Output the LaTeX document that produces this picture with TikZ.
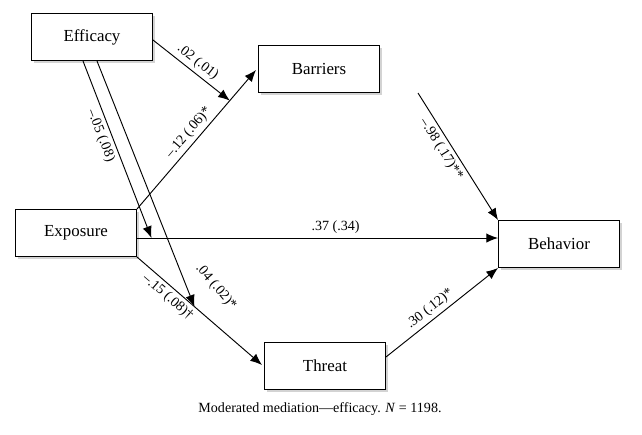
\documentclass[tikz,border=0pt]{standalone}
\usepackage{fontspec}
\setmainfont{Liberation Serif}
\usetikzlibrary{shadows,arrows.meta}
\begin{document}
\begin{tikzpicture}[x=0.03cm,y=-0.03cm]

    \tikzstyle{var}=[rectangle,draw,thick,fill=white,minimum width=3.63cm,minimum height=1.41cm,
                     font=\Large,drop shadow={shadow xshift=2pt,shadow yshift=-2pt,opacity=0.35}]
    \tikzstyle{path}=[thick,-{Latex[length=10pt,width=8pt]}]
    \tikzstyle{coef}=[sloped,font=\large,inner sep=3pt]

    \useasboundingbox (0,0) rectangle (642,434);

    \node[var] (eff) at (92,37)   {Efficacy};
    \node[var] (bar) at (319,69)  {Barriers};
    \node[var] (exp) at (76,233)  {Exposure};
    \node[var] (beh) at (559,244) {Behavior};
    \node[var] (thr) at (325,366) {Threat};

    \draw[path] (exp.north east) -- coordinate[pos=0.78] (mb) node[coef,pos=0.5,above] {–.12 (.06)*} (256,70);
    \draw[path] (137,238) -- coordinate[pos=0.04] (mc) node[pos=0.55,above,font=\large] {.37 (.34)} (beh.west |- 0,238);
    \draw[path] (exp.south east) -- coordinate[pos=0.46] (mt) node[coef,pos=0.3,below] {–.15 (.08)†} (262,365);

    \draw[path] (153,40) -- node[coef,pos=0.5,above] {.02 (.01)} (mb);
    \draw[path] (83,61) -- node[coef,pos=0.4,below] {–.05 (.08)} (mc);
    \draw[path] (97,61) -- (mt);
    \node[font=\large,rotate=-50] (c04) at (216,287) {.04 (.02)*};

    \draw[path] (418,93) -- node[coef,pos=0.4,below] {–.98 (.17)**} (beh.north west);
    \draw[path] (thr.east |- 0,357) -- node[coef,pos=0.45,above] {.30 (.12)*} (beh.south west);

    \node (cap) at (320,409) {\large Moderated mediation—efficacy. \textit{N} = 1198.};

\end{tikzpicture}
\end{document}
